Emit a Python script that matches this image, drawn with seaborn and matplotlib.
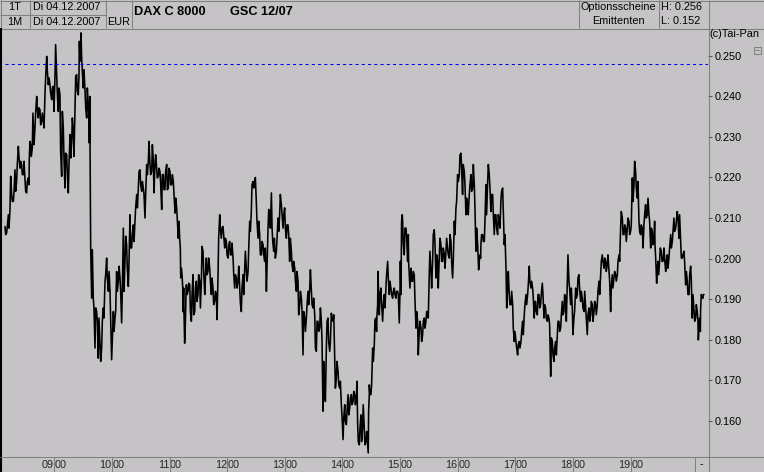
import numpy as np
import pandas as pd
import matplotlib
matplotlib.use("Agg")
import matplotlib.pyplot as plt
import matplotlib.transforms as mtransforms
from matplotlib.lines import Line2D
from matplotlib.patches import Rectangle
import seaborn as sns

# ---------------- data ----------------
# time of each tick sample: minutes after 08:00
MINUTES = [
    8.7, 10.4, 12.2, 13.9, 15.6, 17.4, 19.1, 20.8, 22.6, 24.3,
    26.0, 27.8, 29.5, 31.2, 33.0, 34.0, 35.4, 37.1, 38.2, 39.9,
    41.7, 43.4, 45.1, 46.9, 48.6, 50.3, 52.1, 53.8, 55.5, 57.3,
    59.0, 60.7, 62.5, 64.2, 65.9, 67.7, 69.4, 71.1, 72.9, 74.6,
    76.4, 78.1, 79.8, 81.6, 83.3, 85.0, 86.1, 87.1, 88.5, 90.2,
    92.0, 93.7, 95.4, 96.5, 97.2, 98.9, 100.6, 102.4, 104.1, 105.8,
    107.6, 109.3, 111.0, 112.8, 114.5, 116.3, 118.0, 119.7, 121.5, 123.2,
    124.9, 126.7, 128.4, 130.1, 131.9, 133.6, 135.3, 137.1, 138.8, 140.5,
    142.3, 144.0, 145.8, 147.5, 149.2, 151.0, 152.7, 154.4, 156.2, 157.9,
    159.6, 161.4, 163.1, 164.8, 166.6, 168.3, 170.0, 171.8, 173.5, 175.2,
    177.0, 178.7, 180.4, 182.2, 183.9, 185.7, 187.4, 189.1,
    190.5, 191.6, 193.0, 194.0, 195.0, 196.4, 197.5, 199.2, 201.0, 202.7,
    204.4, 206.2, 207.9, 209.6, 211.4, 213.1, 214.8, 216.6, 218.3, 220.0,
    221.8, 223.5, 225.2, 227.0, 228.7, 230.4, 232.2, 233.9, 235.6, 237.4,
    239.1, 240.9, 242.6, 244.3, 246.1, 247.8, 249.5, 251.3, 253.0, 254.7,
    256.5, 258.2, 259.9, 261.7, 263.4, 265.1, 266.9, 268.6, 270.3, 272.1,
    273.8, 275.6, 277.3, 279.0, 280.1, 282.5, 284.2, 285.3, 286.7, 288.4,
    289.4, 291.2, 292.9, 294.6, 296.4, 298.1, 299.8, 301.6, 303.3, 305.0,
    306.8, 308.5, 310.3, 312.0, 313.7, 315.5, 317.2, 318.9, 320.7, 322.4,
    324.1, 325.9, 327.6, 329.3, 331.1, 332.8, 334.5, 336.3, 338.0, 339.7,
    341.5, 343.2, 344.9, 346.7, 348.4, 350.2, 351.9, 353.6, 355.4, 357.1,
    358.8, 360.6, 362.3, 364.0, 365.8, 367.5, 369.2, 371.0, 372.7, 374.4,
    375.7, 377.5, 379.2, 380.9, 382.7, 384.4, 386.1, 387.2, 387.9, 389.6,
    391.4, 393.1, 394.8, 395.9, 396.9, 398.3, 400.0, 401.8, 403.5, 405.2,
    407.0, 408.7, 410.4, 412.2, 413.9, 415.6, 417.4, 419.1, 420.2, 421.5,
    422.6, 424.3, 426.1, 427.8, 428.8, 430.2, 431.3, 433.0, 434.7, 436.5,
    438.2, 439.9, 441.7, 443.4, 445.1, 446.9, 448.6, 450.3, 452.1, 453.8,
    455.5, 457.3, 459.0, 460.8, 462.5, 464.2, 466.0, 467.7, 469.4, 471.2,
    472.9, 474.6, 476.4, 478.1, 479.8, 481.6, 483.3, 485.0, 486.8, 488.5,
    490.2, 492.0, 493.7, 495.5, 497.2, 498.9, 500.7, 501.7, 503.1, 504.1,
    505.9, 507.6, 509.3, 511.1, 512.8, 514.5, 516.3, 518.0, 519.7, 521.5,
    523.2, 524.9, 526.7, 528.4, 530.2, 531.9, 533.6, 535.4, 537.1, 538.8,
    540.6, 542.3, 544.0, 545.8, 547.5, 549.2, 551.0, 552.7, 554.4, 556.2,
    557.9, 559.6,
    561.0, 562.8, 564.5, 566.2, 568.0, 569.7, 571.4, 573.2, 574.9, 576.7,
    578.4, 580.1, 581.9, 583.6, 585.3, 587.1, 588.8, 590.5, 592.3, 594.0,
    595.7, 597.5, 599.2, 600.9, 602.7, 604.4, 606.1, 607.9, 609.6, 611.4,
    613.1, 614.8, 616.6, 618.3, 620.0, 621.8, 623.5, 625.2, 627.0, 628.7,
    630.4, 632.2, 633.9, 635.6, 637.4, 639.1, 640.8, 642.6, 644.3, 646.1,
    647.8, 649.5, 651.3, 653.0, 654.7, 656.5, 658.2, 659.9, 661.7, 663.4,
    665.1, 666.9, 668.6, 670.3, 672.1, 673.8, 675.5, 677.3, 679.0, 680.8,
    682.5, 684.2, 685.3, 687.0, 688.4, 690.1, 691.9, 693.6, 694.6, 696.4,
    698.1, 699.8, 701.6, 703.3, 705.0, 706.8, 708.5, 710.2, 712.0, 713.7,
    715.4, 717.2, 718.9, 720.7, 722.4, 724.1, 725.9, 727.6, 729.3, 730.4,
    731.8, 732.8, 734.5, 735.6,
]

# highest / lowest price within each sample, in 1/1000 EUR
HIGH_MILLI = [
    207.9, 207.9, 210.8, 220.3, 215.8, 216.6, 221.9, 223.2, 227.7, 224.0,
    223.2, 224.0, 219.9, 219.0, 219.9, 228.9, 228.1, 235.9, 233.0, 235.9,
    240.0, 237.2, 236.7, 235.9, 233.9, 244.6, 249.9, 244.6, 242.9, 242.1,
    242.5, 252.8, 245.4, 242.1, 240.4, 236.3, 232.2, 226.0, 225.6, 223.2,
    230.6, 234.7, 231.4, 245.0, 245.4, 245.0, 253.6, 255.7, 249.5, 246.6,
    241.3, 242.1, 238.0, 240.0, 228.5, 202.2, 190.2, 187.8, 186.9, 185.3,
    178.7, 184.5, 187.8, 196.0, 200.1, 196.8, 191.9, 179.5, 186.9, 186.9,
    196.8, 198.1, 195.2, 191.9, 207.5, 205.5, 203.4, 199.3, 210.8, 205.9,
    208.3, 212.5, 215.8, 221.5, 221.9, 219.0, 217.4, 215.8, 223.2, 228.9,
    223.2, 228.1, 224.0, 225.6, 222.3, 222.3, 221.5, 220.7, 220.7, 221.5,
    223.2, 222.3, 221.5, 220.7, 219.0, 214.9, 212.5, 209.2,
    205.0, 197.6, 196.0, 192.7, 186.9, 191.1, 193.5, 193.9, 193.5, 191.1,
    196.0, 192.7, 194.4, 196.0, 194.4, 203.0, 201.8, 195.2, 200.1, 200.1,
    197.6, 195.2, 192.7, 191.9, 191.1, 205.0, 210.8, 207.5, 207.9, 205.0,
    204.2, 203.4, 204.2, 203.8, 200.1, 196.0, 195.2, 198.1, 192.7, 192.7,
    196.0, 201.8, 197.6, 202.6, 209.2, 218.2, 219.0, 220.0, 214.1, 209.2,
    205.9, 204.2, 203.4, 202.6, 199.3, 212.1, 211.6, 216.2, 207.5, 205.0,
    203.4, 205.0, 210.0, 215.8, 213.3, 210.8, 212.5, 208.3, 208.3, 205.0,
    201.8, 199.3, 197.6, 196.8, 194.4, 191.9, 190.2, 186.9, 185.3, 188.6,
    191.9, 197.2, 191.9, 190.2, 186.1, 184.5, 184.5, 187.8, 184.5, 174.6,
    166.4, 184.5, 185.3, 179.5, 186.5, 186.1, 175.4, 174.6, 172.1, 169.7,
    163.9, 160.6, 163.9, 162.3, 166.4, 165.6, 166.4, 167.2, 166.4, 169.7,
    159.8, 158.1, 161.4, 163.9, 158.1, 157.3, 154.0, 166.4, 168.8, 168.8,
    177.9, 184.9, 185.3, 188.6, 196.8, 191.1, 192.7, 188.6, 191.1, 196.0,
    199.3, 194.4, 192.7, 191.9, 192.7, 191.9, 191.9, 191.1, 199.3, 210.8,
    209.2, 207.5, 207.5, 205.9, 199.3, 196.0, 197.6, 196.8, 196.0, 186.9,
    184.5, 184.5, 182.8, 184.5, 185.3, 186.9, 186.9, 201.8, 196.8, 205.9,
    207.1, 200.9, 199.3, 205.0, 203.4, 202.6, 200.9, 205.0, 202.6, 205.9,
    204.2, 199.3, 209.2, 214.1, 220.7, 225.6, 226.0, 223.2, 221.5, 214.9,
    213.3, 218.2, 220.7, 223.2, 218.2, 207.5, 203.4, 199.3, 200.9, 205.9,
    205.9, 209.2, 218.2, 223.2, 220.7, 215.8, 215.8, 210.8, 210.8, 210.8,
    209.2, 216.6, 217.4, 205.9, 197.6, 196.8, 191.1, 191.9, 188.6, 182.0,
    179.5, 178.7, 179.5, 182.0, 184.5, 188.6, 191.1, 193.5, 198.1, 194.4,
    192.7, 189.4,
    189.4, 191.1, 191.1, 191.1, 193.9, 188.6, 187.8, 186.1, 185.3, 180.4,
    179.5, 177.9, 179.5, 184.5, 184.5, 186.1, 189.4, 191.1, 190.2, 200.9,
    194.4, 192.7, 187.8, 186.9, 192.7, 195.2, 196.0, 191.9, 190.2, 191.9,
    187.8, 186.1, 187.8, 189.4, 188.6, 189.4, 188.6, 191.9, 194.4, 199.3,
    200.9, 200.1, 199.3, 200.9, 196.8, 192.7, 196.0, 196.8, 196.0, 199.3,
    200.9, 211.6, 210.0, 208.3, 207.5, 210.0, 209.2, 208.3, 219.9, 224.0,
    221.5, 219.0, 209.2, 208.3, 207.5, 210.8, 213.3, 214.9, 210.8, 207.5,
    206.7, 209.2, 203.4, 197.6, 199.3, 202.6, 201.8, 200.9, 202.6, 199.3,
    200.9, 202.6, 205.9, 206.7, 210.0, 209.2, 211.6, 210.8, 204.2, 200.9,
    201.8, 196.8, 194.4, 196.0, 198.1, 191.1, 186.9, 188.6, 186.9, 182.8,
    185.3, 191.1, 190.2, 191.1,
]

LOW_MILLI = [
    205.9, 206.3, 207.5, 212.1, 214.1, 214.1, 216.6, 219.0, 224.8, 222.3,
    220.7, 220.7, 216.6, 216.2, 218.2, 224.8, 225.2, 227.3, 228.1, 232.2,
    236.7, 234.7, 233.0, 233.9, 232.2, 240.4, 246.2, 242.9, 240.9, 239.2,
    236.3, 244.6, 240.4, 236.3, 226.4, 220.3, 224.8, 217.4, 220.7, 216.2,
    224.8, 228.9, 225.2, 237.2, 241.3, 240.4, 248.7, 250.3, 246.2, 242.1,
    237.2, 234.7, 233.0, 228.5, 202.2, 190.2, 187.8, 177.9, 184.5, 175.4,
    174.6, 177.9, 185.3, 194.4, 195.2, 191.9, 185.3, 175.0, 182.0, 185.3,
    191.9, 194.4, 191.9, 184.1, 191.9, 199.3, 197.6, 193.1, 202.6, 202.6,
    204.2, 209.2, 212.5, 217.4, 218.2, 216.6, 215.8, 210.0, 220.7, 224.0,
    220.7, 221.5, 216.2, 223.2, 219.9, 220.3, 218.6, 212.1, 217.0, 217.0,
    217.0, 217.4, 218.2, 218.2, 215.8, 211.2, 209.2, 205.0,
    202.6, 195.2, 192.7, 186.9, 179.1, 183.6, 191.1, 191.9, 186.9, 184.5,
    186.1, 186.9, 189.4, 191.1, 187.8, 194.4, 196.8, 191.1, 196.0, 196.8,
    194.4, 191.1, 188.6, 189.4, 184.9, 195.2, 207.5, 205.0, 205.9, 202.6,
    200.9, 200.1, 200.9, 200.9, 196.0, 192.7, 192.7, 194.4, 189.0, 186.9,
    191.1, 197.6, 194.4, 196.8, 206.7, 211.6, 217.4, 218.2, 209.2, 205.0,
    200.9, 200.9, 200.9, 199.3, 191.9, 207.5, 207.5, 210.8, 204.2, 201.8,
    200.1, 201.8, 206.7, 210.8, 210.8, 207.5, 207.5, 205.0, 205.9, 199.3,
    198.5, 196.8, 194.4, 191.9, 186.1, 188.6, 186.9, 176.2, 182.0, 185.3,
    188.6, 192.7, 188.6, 187.8, 177.9, 177.1, 182.0, 182.8, 179.5, 162.3,
    164.7, 177.9, 179.5, 177.1, 185.3, 184.5, 168.0, 170.5, 168.8, 168.0,
    161.0, 155.3, 159.8, 159.0, 161.4, 163.1, 163.9, 164.7, 163.9, 165.6,
    154.8, 154.0, 154.8, 158.1, 154.0, 154.8, 152.0, 162.3, 166.4, 166.4,
    174.6, 178.7, 182.0, 186.1, 191.1, 186.1, 188.6, 184.5, 187.8, 192.7,
    195.2, 191.1, 191.1, 190.2, 191.1, 190.2, 191.1, 184.1, 191.1, 209.2,
    203.4, 200.9, 205.0, 199.3, 196.0, 192.7, 194.4, 194.4, 190.2, 182.8,
    176.2, 182.0, 179.5, 181.2, 182.8, 184.5, 185.3, 196.0, 192.7, 199.3,
    204.2, 195.2, 192.7, 200.9, 199.3, 199.3, 197.6, 201.8, 200.9, 200.1,
    199.3, 195.2, 205.9, 212.5, 219.0, 220.7, 222.3, 215.8, 218.2, 210.8,
    210.8, 215.8, 216.6, 217.4, 212.5, 201.8, 198.5, 197.2, 200.1, 203.4,
    204.2, 204.2, 210.8, 219.0, 217.4, 211.6, 210.8, 205.9, 207.5, 205.9,
    207.5, 214.1, 211.6, 203.4, 187.8, 192.7, 188.6, 188.6, 182.8, 179.5,
    177.9, 176.2, 177.9, 179.5, 181.2, 186.1, 188.6, 191.1, 194.4, 192.7,
    190.2, 185.3,
    186.9, 186.1, 187.8, 188.6, 191.1, 185.3, 185.3, 184.5, 183.6, 170.9,
    176.2, 174.6, 176.2, 181.2, 182.0, 182.8, 186.1, 186.9, 184.5, 194.4,
    192.7, 188.6, 181.2, 185.3, 190.2, 191.1, 192.7, 189.4, 187.8, 186.9,
    185.3, 181.2, 184.5, 186.1, 184.5, 186.9, 186.1, 188.6, 191.1, 196.0,
    199.3, 197.6, 196.8, 198.5, 194.4, 186.9, 192.7, 195.2, 194.4, 196.0,
    199.3, 207.5, 205.9, 205.9, 204.2, 207.5, 205.9, 206.7, 214.1, 218.2,
    217.4, 214.9, 206.7, 205.9, 202.6, 208.3, 210.0, 210.8, 209.2, 202.6,
    203.4, 204.2, 200.1, 193.9, 196.0, 199.3, 199.3, 199.3, 200.1, 196.8,
    197.6, 200.1, 202.6, 204.2, 206.7, 207.5, 210.0, 205.0, 200.1, 200.1,
    199.3, 193.5, 191.1, 191.1, 194.4, 185.3, 184.5, 185.3, 184.5, 179.9,
    182.0, 187.8, 190.2, 191.1,
]

MARK_LEVEL = 0.248          # blue dashed marker line
DAY_HIGH = 0.256
DAY_LOW = 0.152
HOURS = [9, 10, 11, 12, 13, 14, 15, 16, 17, 18, 19]
YTICKS = [0.160, 0.170, 0.180, 0.190, 0.200, 0.210, 0.220, 0.230, 0.240, 0.250]

# ---------------- build tick line (high/low alternate within each sample) ----------------
hours, prices = [], []
for i, (m, hi, lo) in enumerate(zip(MINUTES, HIGH_MILLI, LOW_MILLI)):
    first, second = (hi, lo) if i % 2 == 0 else (lo, hi)
    hours += [8 + m / 60.0, 8 + (m + 0.7) / 60.0]
    prices += [first / 1000.0, second / 1000.0]
df = pd.DataFrame({"hour": hours, "price": prices})

# ---------------- figure ----------------
W, H = 764, 472
sns.set_theme(style="white")
plt.rcParams["font.family"] = ["Liberation Sans", "DejaVu Sans"]
BG = "#C5C3C6"
EDGE = "#808080"
FS = 7.8

fig = plt.figure(figsize=(W / 100, H / 100), dpi=100, facecolor=BG)
ax = fig.add_axes([2 / W, 1 - 457 / H, (708 - 2) / W, (457 - 28) / H])
ax.set_facecolor(BG)

sns.lineplot(data=df, x="hour", y="price", sort=False, estimator=None,
             color="black", lw=1.15, ax=ax, legend=False)
ax.axhline(MARK_LEVEL, xmin=3 / 706, xmax=1, color="#0000FF", lw=0.75, dashes=(3, 3))

ax.set_xlim(8.093, 20.341)
ax.set_ylim(0.1510, 0.2569)
for s in ax.spines.values():
    s.set_visible(False)
ax.set_xlabel("")
ax.set_ylabel("")
ax.set_xticks([])
ax.yaxis.tick_right()
ax.set_yticks(YTICKS)
ax.set_yticklabels([f"{v:.3f}" for v in YTICKS])
ax.tick_params(axis="y", right=True, left=False, length=3.0, width=0.75,
               color="#505050", pad=1.5, labelsize=FS, labelcolor="black")


def fx(x):
    return x / W


def fy(y):
    return 1 - y / H


def hline(y, x0, x1, color=EDGE, lw=0.75):
    fig.add_artist(Line2D([fx(x0), fx(x1)], [fy(y), fy(y)], transform=fig.transFigure,
                          color=color, lw=lw, solid_capstyle="butt"))


def vline(x, y0, y1, color=EDGE, lw=0.75):
    fig.add_artist(Line2D([fx(x), fx(x)], [fy(y0), fy(y1)], transform=fig.transFigure,
                          color=color, lw=lw, solid_capstyle="butt"))


def txt(x, y, s, ha="left", **kw):
    fig.text(fx(x), fy(y), s, ha=ha, va="center", fontsize=kw.pop("fontsize", FS),
             color="black", **kw)


# header frame
hline(0.5, 0, W)
hline(28.5, 0, W)
hline(14.5, 0, 106)
vline(0.5, 0, 28)
for xv in (29.5, 105.5, 131.5, 578.5, 658.5):
    vline(xv, 0, 28)
# plot frame
vline(708.5, 0, H)
vline(0.8, 28, H, color="black", lw=1.5)
hline(456.5, 0, W)
hline(471.5, 0, W, color="#404040")
vline(694.5, 457, H)

# header texts
txt(14.5, 7.5, "1T", ha="center")
txt(33, 7.5, "Di 04.12.2007")
txt(14.5, 22, "1M", ha="center")
txt(33, 22, "Di 04.12.2007")
txt(107, 22, "EUR")
txt(134, 12, "DAX C 8000", fontsize=9.2, fontweight="bold")
txt(230, 12, "GSC 12/07", fontsize=9.2, fontweight="bold")
txt(618, 6.5, "Optionsscheine", ha="center")
txt(618, 21, "Emittenten", ha="center")
txt(661, 6.5, f"H: {DAY_HIGH:.3f}")
txt(661, 21, f"L: {DAY_LOW:.3f}")
txt(709, 34, "(c)Tai-Pan")
txt(701.5, 464.5, "-", ha="center")

# small collapse box
fig.add_artist(Rectangle((fx(753.5), fy(53.5)), 7 / W, 7 / H, transform=fig.transFigure,
                         fill=False, edgecolor=EDGE, lw=0.75))
hline(50, 755, 759)

# hour labels in the bottom strip: "09|00"
trans = mtransforms.blended_transform_factory(ax.transData, fig.transFigure)
for h in HOURS:
    ax.text(h - 0.006, fy(464.5), f"{h:02d}", ha="right", va="center", fontsize=FS,
            transform=trans, clip_on=False)
    ax.text(h + 0.008, fy(464.5), "00", ha="left", va="center", fontsize=FS,
            transform=trans, clip_on=False)
    fig.add_artist(Line2D([h, h], [fy(457), fy(H)], transform=trans, color=EDGE, lw=0.75))

fig.savefig("out.png", dpi=100, facecolor=BG)
